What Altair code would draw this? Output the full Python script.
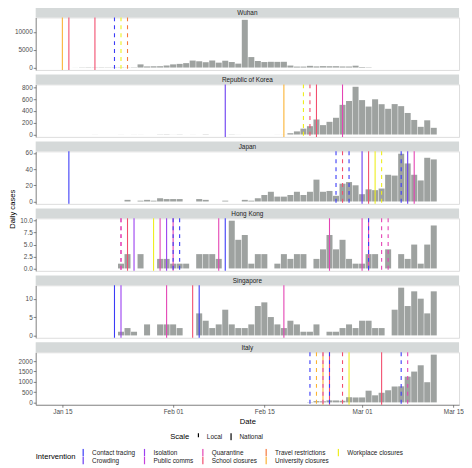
import altair as alt
import pandas as pd

FONT = "Liberation Sans"

countries = ["Wuhan", "Republic of Korea", "Japan", "Hong Kong", "Singapore", "Italy"]

# daily cases: first date + consecutive daily values (None = no bar)
wuhan_start = "2020-01-16"
wuhan_cases = [4, 17, 59, 77, 60, 105, 62, 70, 77, 46, 80,
               892, 315, 356, 378, 576,
               894, 1033, 1242, 1967, 1766, 1501, 1985, 1379, 1921, 1552, 1104, 13436, 2950,
               1850, 1550, 1620, 1600, 1620, 560, 270, 270, 480, 320, 400, 370, 380, 300, 290, 520,
               160, 90]

korea_start = "2020-01-20"
korea_cases = [1, None, None, None, 1, None, 1, 1, None, None, 3, 4,
               1, 3, None, 1, None, 4, None, None, None, 3, 1, None, None, None, None, None, 1, 1,
               22, 53, 100, 142, 256, 160, 216, 285, 505, 571, 813,
               586, 476, 600, 516, 438, 518, 483, 367, 248, 131, 242, 114]

japan_start = "2020-01-25"
japan_cases = [2, None, 1, 2, 1, 4, 3,
               3, 3, None, None, 3, 2, None, None, 1, None, None, 2, 1, 4, 8, 12, 6, 6,
               8, 12, 8, 12, 27, 12, 13, 7, 22, 24, 20,
               9, 15, 14, 16, 33, 32, 59, 47, 33, 26, 54, 52]

hongkong_start = "2020-01-24"
hongkong_cases = [1, 3, None, 3, None, None, 2, 2,
                  1, 1, 1, None, 3, 3, 3, 2, None, 10, 6, 7, 1, 3, 3, None, 1, 3, 2, 3, 3, None,
                  2, 4, 7, 4, 6, 2, 1,
                  1, 3, 3, None, 4, None, 3, 2, 5, 1, 5, 9]

singapore_start = "2020-01-24"
singapore_cases = [1, 2, 1, None, 3, None, 3, 3,
                   3, 2, None, None, 6, 4, 2, 3, 7, 3, 2, 2, 3, 8, 9, 5, 3, 2, 4, 3, 1, 1, 3, None,
                   1, 1, 2, 3, 2,
                   4, 4, 2, 2, None, 7, 13, 8, 12, 10, 6, 12]

italy_start = "2020-02-22"
italy_cases = [14, 62, 53, 97, 93, 78, 250, 238,
               240, 566, 342, 466, 587, 769, 778, 1247, 1492, 1797, 977, 2313]

series = {
    "Wuhan": (wuhan_start, wuhan_cases),
    "Republic of Korea": (korea_start, korea_cases),
    "Japan": (japan_start, japan_cases),
    "Hong Kong": (hongkong_start, hongkong_cases),
    "Singapore": (singapore_start, singapore_cases),
    "Italy": (italy_start, italy_cases),
}

# interventions
iv_country = (["Wuhan"] * 6 + ["Republic of Korea"] * 6 + ["Japan"] * 11 +
              ["Hong Kong"] * 18 + ["Singapore"] * 6 + ["Italy"] * 11)
iv_date = [
    "2020-01-15", "2020-01-16", "2020-01-20", "2020-01-23", "2020-01-24", "2020-01-25",
    "2020-02-09", "2020-02-18", "2020-02-21", "2020-02-22", "2020-02-23", "2020-02-27",
    "2020-01-16", "2020-02-26", "2020-02-27", "2020-02-28", "2020-03-01", "2020-03-02",
    "2020-03-03", "2020-03-04", "2020-03-07", "2020-03-08", "2020-03-09",
    "2020-01-24", "2020-01-25", "2020-01-26", "2020-01-29", "2020-01-30", "2020-01-31",
    "2020-02-01", "2020-02-01", "2020-02-02", "2020-02-08", "2020-02-09", "2020-02-25",
    "2020-03-01", "2020-03-02", "2020-03-02", "2020-03-04", "2020-03-05", "2020-01-24",
    "2020-01-23", "2020-01-24", "2020-01-31", "2020-02-04", "2020-02-05", "2020-02-18",
    "2020-02-22", "2020-02-23", "2020-02-24", "2020-02-24", "2020-02-25", "2020-02-25",
    "2020-02-27", "2020-02-28", "2020-03-04", "2020-03-07", "2020-03-08",
]
iv_type = [
    "University closures", "School closures", "School closures", "Contact tracing", "Workplace closures", "Travel restrictions",
    "Crowding", "University closures", "Workplace closures", "School closures", "School closures", "Quarantine",
    "Contact tracing", "Contact tracing", "School closures", "Contact tracing", "Crowding", "School closures",
    "Workplace closures", "Workplace closures", "Contact tracing", "Crowding", "Quarantine",
    "Quarantine", "School closures", "Isolation", "Workplace closures", "Quarantine", "Isolation",
    "Quarantine", "Contact tracing", "Contact tracing", "Quarantine", "Contact tracing", "Quarantine",
    "Quarantine", "Quarantine", "Contact tracing", "Quarantine", "Quarantine", "Quarantine",
    "Contact tracing", "Isolation", "Quarantine", "School closures", "Contact tracing", "Quarantine",
    "Contact tracing", "University closures", "University closures", "Quarantine", "School closures", "Contact tracing",
    "School closures", "Workplace closures", "School closures", "Contact tracing", "Quarantine",
]
iv_scale = [
    "National", "National", "National", "Local", "Local", "Local",
    "National", "National", "Local", "Local", "National", "National",
    "National", "Local", "Local", "Local", "National", "National",
    "National", "Local", "Local", "National", "National",
    "Local", "National", "National", "National", "National", "National",
    "National", "Local", "Local", "National", "National", "National",
    "National", "National", "Local", "Local", "Local", "Local",
    "National", "National", "National", "National", "National", "National",
    "Local", "Local", "National", "Local", "National", "Local",
    "Local", "National", "National", "Local", "Local",
]

# legend order (row-major for 2 rows x 5 columns, matching column-major reading)
legend_order = ["Contact tracing", "Isolation", "Quarantine", "Travel restrictions", "Workplace closures",
                "Crowding", "Public comms", "School closures", "University closures"]
legend_colors = ["#3b3bf7", "#9a3ff0", "#e444b4", "#f5793e", "#eeee1e",
                 "#6a3cf2", "#c542dc", "#f24e6e", "#fbb334"]

scale_levels = ["Local", "National"]

y_ticks = {
    "Wuhan": [0, 5000, 10000],
    "Republic of Korea": [0, 200, 400, 600, 800],
    "Japan": [0, 20, 40, 60],
    "Hong Kong": [0, 2.5, 5, 7.5, 10],
    "Singapore": [0, 5, 10],
    "Italy": [0, 500, 1000, 1500, 2000],
}
y_formats = {"Hong Kong": ".1f"}

x_tick_dates = [(2020, 1, 15), (2020, 2, 1), (2020, 2, 15), (2020, 3, 1), (2020, 3, 15)]
x_domain = [(2020, 1, 11, 16), (2020, 3, 15, 3)]

# ---------- build tables ----------
rows = []
for c, (start, vals) in series.items():
    t0 = pd.Timestamp(start)
    for i, v in enumerate(vals):
        if v is not None:
            rows.append({"country": c, "date": (t0 + pd.Timedelta(days=i)).strftime("%Y-%m-%d"), "cases": v})
cases_df = pd.DataFrame(rows)

iv_df = pd.DataFrame({"country": iv_country, "date": iv_date, "type": iv_type, "scale": iv_scale})

W = 428
H = 53.1
STRIP = 10
GAP = 13.7
BAR_W = 6.07
STRIP_BG = "#d5d9d9"
BAR_COLOR = "#9ea2a0"
LABEL_COLOR = "#4d4d4d"

x_scale = alt.Scale(
    type="utc", nice=False,
    domain=[alt.DateTime(year=d[0], month=d[1], date=d[2], hours=d[3], utc=True) for d in x_domain],
)
x_values = [alt.DateTime(year=d[0], month=d[1], date=d[2], utc=True) for d in x_tick_dates]

color_enc = alt.Color(
    "type:N",
    scale=alt.Scale(domain=legend_order, range=legend_colors),
    legend=alt.Legend(
        title="Intervention", orient="none", legendX=0, legendY=436, columns=5,
        direction="horizontal", titleOrient="left", titleAnchor="middle", titleBaseline="middle",
        symbolType="M0,-1L0,1", symbolSize=64, symbolStrokeWidth=1.2, clipHeight=8,
        labelFontSize=6.5, labelFont=FONT, labelColor="#1a1a1a", labelOffset=4, labelLimit=200,
        titleFontSize=7.7, titleFont=FONT, titleFontWeight="normal", titleColor="black",
        titlePadding=2, columnPadding=4, rowPadding=0,
    ),
)
dash_enc = alt.StrokeDash(
    "scale:N",
    scale=alt.Scale(domain=scale_levels, range=[[4, 4], [1, 0]]),
    legend=alt.Legend(
        title="Scale", orient="none", legendX=136, legendY=420, direction="horizontal",
        titleOrient="left", titleAnchor="middle", titleBaseline="middle",
        symbolType="M0,-1L0,1", symbolSize=49, symbolStrokeWidth=1.2, symbolStrokeColor="black",
        clipHeight=8,
        labelFontSize=6.5, labelFont=FONT, labelColor="#1a1a1a", labelOffset=4,
        titleFontSize=7.7, titleFont=FONT, titleFontWeight="normal", titleColor="black",
        titlePadding=4, columnPadding=4,
    ),
)

panels = []
for c in countries:
    sub = cases_df[cases_df.country == c]
    ymax = sub["cases"].max()
    ydom = [-0.05 * ymax, 1.05 * ymax]
    bottom = c == countries[-1]
    if bottom:
        x_axis = alt.Axis(
            values=x_values, format="%b %d", title="Date", grid=False, labelFlush=4,
            labelFontSize=6.5, labelColor=LABEL_COLOR, labelPadding=1.5, labelFont=FONT,
            tickSize=2.5, tickColor="#333333", tickWidth=0.6,
            domainColor="#4d4d4d", domainWidth=0.6,
            titleFontSize=7.7, titleFont=FONT, titleFontWeight="normal", titleColor="black", titlePadding=2,
        )
    else:
        x_axis = None
    y_kwargs = dict(
        values=y_ticks[c], format=y_formats.get(c, "d"), grid=False,
        labelFontSize=6.5, labelColor=LABEL_COLOR, labelPadding=1, labelFont=FONT,
        tickSize=2.5, tickColor="#333333", tickWidth=0.6,
        domainColor="#4d4d4d", domainWidth=0.6,
    )
    if c == "Japan":
        y_axis = alt.Axis(title="Daily cases", titleX=-19.5, titleY=58, titleFontSize=7.7,
                          titleFont=FONT, titleFontWeight="normal", titleColor="black", **y_kwargs)
    else:
        y_axis = alt.Axis(title=None, **y_kwargs)

    head = pd.DataFrame({"panel": [c]})
    strip = alt.Chart(head).mark_rect(fill=STRIP_BG).encode(
        x=alt.value(0), x2=alt.value(W), y=alt.value(-STRIP), y2=alt.value(0)
    )
    strip_text = alt.Chart(head).mark_text(
        fontSize=6.5, font=FONT, color="#1a1a1a", align="center", baseline="middle"
    ).encode(x=alt.value(W / 2), y=alt.value(-STRIP / 2 + 0.3), text="panel:N")

    bars = alt.Chart(sub).mark_bar(width=BAR_W, color=BAR_COLOR).encode(
        x=alt.X("date:T", scale=x_scale, axis=x_axis),
        y=alt.Y("cases:Q", scale=alt.Scale(domain=ydom, nice=False, zero=False), axis=y_axis),
    )
    rules = alt.Chart(iv_df[iv_df.country == c]).mark_rule(strokeWidth=1.1).encode(
        x=alt.X("date:T", scale=x_scale, axis=x_axis),
        color=color_enc,
        strokeDash=dash_enc,
    )
    panels.append(alt.layer(strip, strip_text, bars, rules).properties(width=W, height=H))

chart = (
    alt.vconcat(*panels, spacing=GAP, bounds="flush")
    .resolve_scale(x="shared", y="independent", color="shared", strokeDash="shared")
    .resolve_axis(x="independent", y="independent")
    .properties(padding={"left": 0, "top": -4, "right": 0, "bottom": 0})
    .configure_view(stroke=None)
    .configure(font=FONT)
)

chart.save("out.html", embed_options={"renderer": "svg", "actions": False})
